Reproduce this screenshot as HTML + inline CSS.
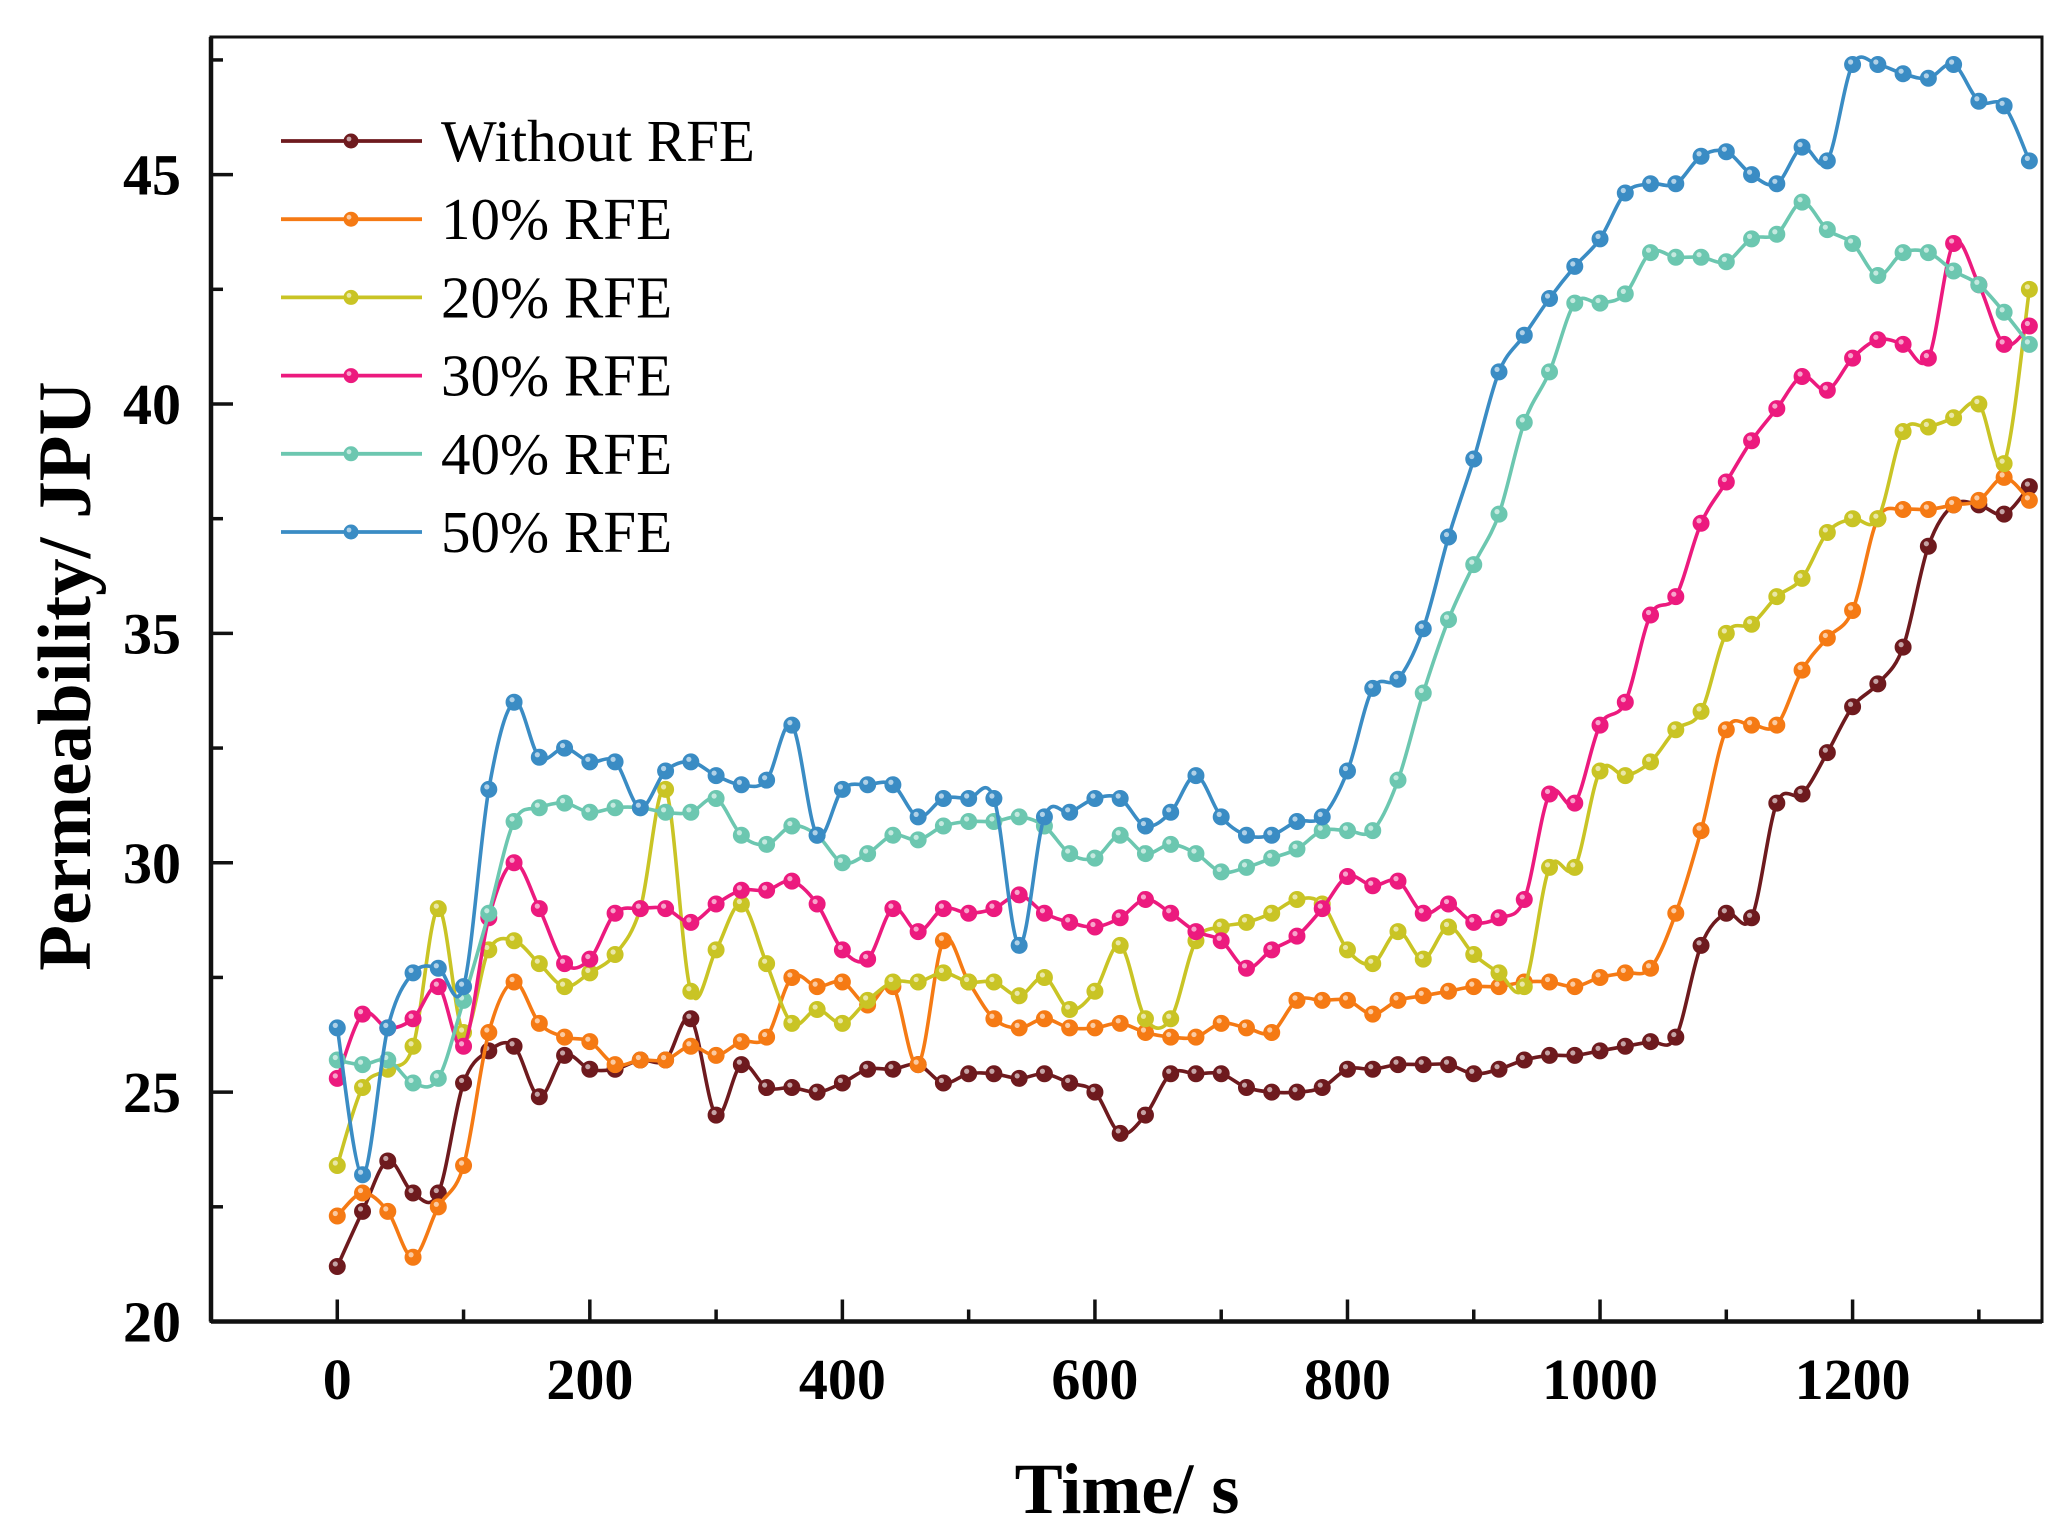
<!DOCTYPE html>
<html><head><meta charset="utf-8"><style>
html,body{margin:0;padding:0;background:#fff;}
svg{display:block;}
text{font-family:"Liberation Serif",serif;}
</style></head><body>
<svg id="chart" width="2066" height="1535" viewBox="0 0 2066 1535">
<g id="plot"></g>
<g id="axes"></g>
<g id="legend"></g>
<text x="1127" y="1513" font-size="72" font-weight="bold" text-anchor="middle">Time/ s</text>
<text transform="translate(90,676) rotate(-90)" font-size="75" font-weight="bold" text-anchor="middle">Permeability/ JPU</text>
</svg>
<script>
const times = [];
for (let t = 0; t <= 1340; t += 20) times.push(t);
const seriesNames = ["Without RFE","10% RFE","20% RFE","30% RFE","40% RFE","50% RFE"];
const seriesColors = ["#6e1a1e","#f57a14","#c9c425","#ec1a7e","#6cc7b0","#3a8cc4"];
const withoutRFE = [21.2,22.4,23.5,22.8,22.8,25.2,25.9,26.0,24.9,25.8,25.5,25.5,25.7,25.7,26.6,24.5,25.6,25.1,25.1,25.0,25.2,25.5,25.5,25.6,25.2,25.4,25.4,25.3,25.4,25.2,25.0,24.1,24.5,25.4,25.4,25.4,25.1,25.0,25.0,25.1,25.5,25.5,25.6,25.6,25.6,25.4,25.5,25.7,25.8,25.8,25.9,26.0,26.1,26.2,28.2,28.9,28.8,31.3,31.5,32.4,33.4,33.9,34.7,36.9,37.8,37.8,37.6,38.2];
const rfe10 = [22.3,22.8,22.4,21.4,22.5,23.4,26.3,27.4,26.5,26.2,26.1,25.6,25.7,25.7,26.0,25.8,26.1,26.2,27.5,27.3,27.4,26.9,27.3,25.6,28.3,27.4,26.6,26.4,26.6,26.4,26.4,26.5,26.3,26.2,26.2,26.5,26.4,26.3,27.0,27.0,27.0,26.7,27.0,27.1,27.2,27.3,27.3,27.4,27.4,27.3,27.5,27.6,27.7,28.9,30.7,32.9,33.0,33.0,34.2,34.9,35.5,37.5,37.7,37.7,37.8,37.9,38.4,37.9];
const rfe20 = [23.4,25.1,25.5,26.0,29.0,26.3,28.1,28.3,27.8,27.3,27.6,28.0,29.0,31.6,27.2,28.1,29.1,27.8,26.5,26.8,26.5,27.0,27.4,27.4,27.6,27.4,27.4,27.1,27.5,26.8,27.2,28.2,26.6,26.6,28.3,28.6,28.7,28.9,29.2,29.1,28.1,27.8,28.5,27.9,28.6,28.0,27.6,27.3,29.9,29.9,32.0,31.9,32.2,32.9,33.3,35.0,35.2,35.8,36.2,37.2,37.5,37.5,39.4,39.5,39.7,40.0,38.7,42.5];
const rfe30 = [25.3,26.7,26.4,26.6,27.3,26.0,28.8,30.0,29.0,27.8,27.9,28.9,29.0,29.0,28.7,29.1,29.4,29.4,29.6,29.1,28.1,27.9,29.0,28.5,29.0,28.9,29.0,29.3,28.9,28.7,28.6,28.8,29.2,28.9,28.5,28.3,27.7,28.1,28.4,29.0,29.7,29.5,29.6,28.9,29.1,28.7,28.8,29.2,31.5,31.3,33.0,33.5,35.4,35.8,37.4,38.3,39.2,39.9,40.6,40.3,41.0,41.4,41.3,41.0,43.5,42.6,41.3,41.7];
const rfe40 = [25.7,25.6,25.7,25.2,25.3,27.0,28.9,30.9,31.2,31.3,31.1,31.2,31.2,31.1,31.1,31.4,30.6,30.4,30.8,30.6,30.0,30.2,30.6,30.5,30.8,30.9,30.9,31.0,30.8,30.2,30.1,30.6,30.2,30.4,30.2,29.8,29.9,30.1,30.3,30.7,30.7,30.7,31.8,33.7,35.3,36.5,37.6,39.6,40.7,42.2,42.2,42.4,43.3,43.2,43.2,43.1,43.6,43.7,44.4,43.8,43.5,42.8,43.3,43.3,42.9,42.6,42.0,41.3];
const rfe50 = [26.4,23.2,26.4,27.6,27.7,27.3,31.6,33.5,32.3,32.5,32.2,32.2,31.2,32.0,32.2,31.9,31.7,31.8,33.0,30.6,31.6,31.7,31.7,31.0,31.4,31.4,31.4,28.2,31.0,31.1,31.4,31.4,30.8,31.1,31.9,31.0,30.6,30.6,30.9,31.0,32.0,33.8,34.0,35.1,37.1,38.8,40.7,41.5,42.3,43.0,43.6,44.6,44.8,44.8,45.4,45.5,45.0,44.8,45.6,45.3,47.4,47.4,47.2,47.1,47.4,46.6,46.5,45.3];
const xTicks = [0,200,400,600,800,1000,1200];
const yTicks = [20,25,30,35,40,45];

const allSeries = [withoutRFE,rfe10,rfe20,rfe30,rfe40,rfe50];
const X0=211, X1=2042, Y0=1321.5, Y1=37;
const xMin=-100, xMax=1350, yMin=20, yMax=48;
function xs(v){return X0+(v-xMin)/(xMax-xMin)*(X1-X0);}
function ys(v){return Y0-(v-yMin)/(yMax-yMin)*(Y0-Y1);}
const NS="http://www.w3.org/2000/svg";
function mk(tag,attrs,parent){const e=document.createElementNS(NS,tag);for(const k in attrs)e.setAttribute(k,attrs[k]);parent.appendChild(e);return e;}

const plot=document.getElementById('plot');
function splinePath(pts){
  let d="M"+pts[0][0].toFixed(1)+","+pts[0][1].toFixed(1);
  for(let i=0;i<pts.length-1;i++){
    const p0=pts[Math.max(0,i-1)],p1=pts[i],p2=pts[i+1],p3=pts[Math.min(pts.length-1,i+2)];
    const c1=[p1[0]+(p2[0]-p0[0])/6,p1[1]+(p2[1]-p0[1])/6];
    const c2=[p2[0]-(p3[0]-p1[0])/6,p2[1]-(p3[1]-p1[1])/6];
    d+="C"+c1[0].toFixed(1)+","+c1[1].toFixed(1)+" "+c2[0].toFixed(1)+","+c2[1].toFixed(1)+" "+p2[0].toFixed(1)+","+p2[1].toFixed(1);
  }
  return d;
}
allSeries.forEach((vals,si)=>{
  const g=mk('g',{},plot);
  
  
  const pts=vals.map((v,i)=>[xs(times[i]),ys(v)]);
  const line=mk('path',{d:splinePath(pts),fill:'none',stroke:seriesColors[si],'stroke-width':3.6},g);
  
  
  pts.forEach(p=>{
    const c=mk('circle',{cx:p[0],cy:p[1],r:8,fill:seriesColors[si],stroke:seriesColors[si],'stroke-width':1},g);
    
    
    mk('circle',{cx:p[0]-2,cy:p[1]-2.5,r:2.6,fill:'#fff','fill-opacity':0.6},g);
  });
});

const axes=document.getElementById('axes');
const frame=mk('rect',{x:X0,y:Y1,width:X1-X0,height:Y0-Y1,fill:'none',stroke:'#111','stroke-width':3},axes);


mk('line',{x1:X0,y1:Y0,x2:X1,y2:Y0,stroke:'#111','stroke-width':4.5},axes);
mk('line',{x1:X0,y1:Y1,x2:X0,y2:Y0,stroke:'#111','stroke-width':4.5},axes);
xTicks.forEach(t=>{
  mk('line',{x1:xs(t),y1:Y0,x2:xs(t),y2:Y0-22,stroke:'#111','stroke-width':3.5},axes);
  mk('line',{x1:xs(t+100),y1:Y0,x2:xs(t+100),y2:Y0-12,stroke:'#111','stroke-width':3.5},axes);
  const tx=mk('text',{x:xs(t),y:1399,'font-size':58,'font-weight':'bold','text-anchor':'middle'},axes);
  tx.textContent=t;
  
  
});
yTicks.forEach(t=>{
  mk('line',{x1:X0,y1:ys(t),x2:X0+22,y2:ys(t),stroke:'#111','stroke-width':3.5},axes);
  if(t+2.5<yMax) mk('line',{x1:X0,y1:ys(t+2.5),x2:X0+12,y2:ys(t+2.5),stroke:'#111','stroke-width':3.5},axes);
  const ty=mk('text',{x:181,y:ys(t)+20,'font-size':58,'font-weight':'bold','text-anchor':'end'},axes);
  ty.textContent=t;
  
  
});

const legend=document.getElementById('legend');
seriesNames.forEach((n,i)=>{
  const y=141+i*78.2;
  const g=mk('g',{},legend);
  
  
  mk('line',{x1:281,y1:y,x2:422,y2:y,stroke:seriesColors[i],'stroke-width':3.8},g);
  mk('circle',{cx:351,cy:y,r:7.5,fill:seriesColors[i]},g);
  mk('circle',{cx:349,cy:y-2,r:2.4,fill:'#fff','fill-opacity':0.6},g);
  const tx=mk('text',{x:441,y:y+20,'font-size':59},g);
  tx.textContent=n;
});
</script>
</body></html>
